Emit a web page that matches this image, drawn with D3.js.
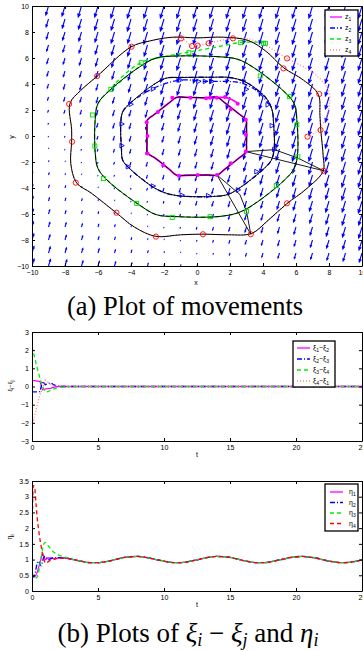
<!DOCTYPE html>
<html>
<head>
<meta charset="utf-8">
<script src="https://cdn.jsdelivr.net/npm/d3@7"></script>
<style>
  body { margin: 0; background: #fff; }
  svg { display: block; font-family: "Liberation Sans", Arial, sans-serif; }
</style>
</head>
<body>
<svg id="chart" width="363" height="651"></svg>
<script>
// ---- panel (a): vector field ----
const gridX = [-10, -9, -8, -7, -6, -5, -4, -3, -2, -1, 0, 1, 2, 3, 4, 5, 6, 7, 8, 9, 10];
const gridY = [10, 9, 8, 7, 6, 5, 4, 3, 2, 1, 0, -1, -2, -3, -4, -5, -6, -7, -8, -9, -10];
// vertical speed per grid cell (negative = pointing down), rows follow gridY
const fieldVy = [
  [-8, -9, -10, -11, -11, -12, -12, -12, -12, -12, -12, -12, -12, -12, -12, -12, -12, -12, -12, -12, -12],
  [-7, -8, -9, -10, -11, -11, -12, -12, -12, -12, -12, -12, -12, -12, -12, -12, -12, -12, -12, -12, -12],
  [-6, -7, -8, -9, -10, -11, -11, -12, -12, -12, -12, -12, -12, -12, -12, -12, -12, -12, -12, -12, -12],
  [-5.5, -6, -7, -8, -9, -10, -11, -11, -12, -12, -12, -12, -12, -12, -12, -12, -12, -12, -12, -12, -12],
  [-5, -5.5, -6, -7, -8, -9, -10, -11, -11, -12, -12, -12, -12, -12, -12, -12, -12, -12, -12, -12, -12],
  [-4, -5, -5.5, -6, -7, -8, -9, -10, -11, -11, -12, -12, -12, -12, -12, -12, -12, -12, -12, -12, -12],
  [-3, -4, -5, -5.5, -6, -7, -8, -9, -10, -11, -11, -12, -12, -12, -12, -12, -12, -12, -12, -12, -12],
  [-2, -3, -4, -5, -5.5, -6, -7, -8, -9, -10, -11, -11, -12, -12, -12, -12, -12, -12, -12, -12, -12],
  [-1, -2, -3, -4, -5, -5.5, -6, -7, -8, -9, -10, -11, -11, -12, -12, -12, -12, -12, -12, -12, -12],
  [-0.5, -1, -2, -3, -4, -5, -5.5, -6, -7, -8, -9, -10, -11, -11, -12, -12, -12, -12, -12, -12, -12],
  [0.5, -0.5, -1, -2, -3, -4, -5, -5.5, -6, -7, -8, -9, -10, -11, -11, -12, -12, -12, -12, -12, -12],
  [1, 0.5, -0.5, -1, -2, -3, -4, -5, -5.5, -6, -7, -8, -9, -10, -11, -11, -12, -12, -12, -12, -12],
  [2, 1, 0.5, -0.5, -1, -2, -3, -4, -5, -5.5, -6, -7, -8, -9, -10, -11, -11, -12, -12, -12, -12],
  [2.5, 2, 1, 0.5, -0.5, -1, -2, -3, -4, -5, -5.5, -6, -7, -8, -9, -10, -11, -11, -12, -12, -12],
  [3, 2.5, 2, 1, 0.5, -0.5, -1, -2, -3, -4, -5, -5.5, -6, -7, -8, -9, -10, -11, -11, -12, -12],
  [4, 3, 2.5, 2, 1, 0.5, -0.5, -1, -2, -3, -4, -5, -5.5, -6, -7, -8, -9, -10, -11, -11, -12],
  [4.5, 4, 3, 2.5, 2, 1, 0.5, -0.5, -1, -2, -3, -4, -5, -5.5, -6, -7, -8, -9, -10, -11, -11],
  [5, 4.5, 4, 3, 2.5, 2, 1, 0.5, -0.5, -1, -2, -3, -4, -5, -5.5, -6, -7, -8, -9, -10, -11],
  [6, 5, 4.5, 4, 3, 2.5, 2, 1, 0.5, -0.5, -1, -2, -3, -4, -5, -5.5, -6, -7, -8, -9, -10],
  [6.5, 6, 5, 4.5, 4, 3, 2.5, 2, 1, 0.5, -0.5, -1, -2, -3, -4, -5, -5.5, -6, -7, -8, -9],
  [7, 6.5, 6, 5, 4.5, 4, 3, 2.5, 2, 1, 0.5, -0.5, -1, -2, -3, -4, -5, -5.5, -6, -7, -8]
];

// desired closed paths (black), counter-clockwise
const path1 = [[3, -0.62], [3, 0.62], [2.97, 1.23], [2.56, 1.68], [1.68, 2.56], [1.23, 2.97], [0.62, 2.95], [-0.62, 2.97],
  [-1.23, 2.97], [-1.68, 2.56], [-2.56, 1.68], [-3.02, 1.2], [-3.03, 0.62], [-3.03, -0.62], [-3.0, -1.3], [-2.56, -1.68],
  [-1.68, -2.56], [-1.23, -3.02], [-0.62, -3.02], [0.62, -3.0], [1.23, -3.0], [1.68, -2.56], [2.56, -1.68], [2.97, -1.23]];
const path2 = [[4.68, -0.96], [4.64, 0.96], [4.55, 2.0], [4.2, 2.9], [2.95, 4.15], [1.95, 4.5], [0.96, 4.52], [-0.96, 4.5],
  [-1.87, 4.45], [-2.61, 3.97], [-3.97, 2.61], [-4.5, 1.87], [-4.62, 0.96], [-4.58, -0.96], [-4.5, -1.87], [-4.0, -2.6],
  [-2.61, -3.97], [-1.87, -4.4], [-0.96, -4.62], [0.96, -4.65], [1.87, -4.5], [2.61, -3.97], [3.97, -2.61], [4.5, -1.87]];
const path3 = [[6.1, -1.27], [6.05, 1.27], [5.9, 2.47], [5.25, 3.45], [3.45, 5.25], [2.47, 5.9], [1.27, 6.1], [-1.27, 6.15],
  [-2.47, 6.0], [-3.5, 5.3], [-5.3, 3.5], [-6.0, 2.5], [-6.17, 1.27], [-6.17, -1.27], [-6.0, -2.5], [-5.4, -3.45],
  [-3.5, -5.3], [-2.47, -6.05], [-1.27, -6.2], [1.27, -6.2], [2.5, -5.9], [3.45, -5.25], [5.25, -3.45], [5.9, -2.47]];
const path4 = [[7.65, -1.6], [7.5, 0.5], [7.45, 1.6], [7.35, 3.2], [6.45, 4.3], [5.25, 5.25], [4.2, 6.5], [3.1, 7.35],
  [1.6, 7.6], [0, 7.55], [-1.5, 7.6], [-2.9, 7.3], [-4.0, 6.85], [-6.05, 4.6], [-7.05, 3.5], [-7.7, 2.5], [-7.6, 0.5],
  [-7.6, -0.5], [-7.65, -2.1], [-7.3, -3.6], [-6.4, -4.4], [-4.9, -5.9], [-3.8, -7.0], [-2.5, -7.72], [-1.0, -7.6],
  [0.4, -7.55], [1.9, -7.6], [3.3, -7.5], [4.3, -6.5], [5.45, -5.2], [6.6, -4.1], [7.65, -2.7]];

// agent start-up transients before they lock onto their path
const z1Start = [[2.5, 2.5], [1.8, 2.95], [1.2, 2.95], [0.6, 2.9], [0, 2.95]];
const z2Start = [[4.4, 2.4], [3.6, 3.5], [2.6, 4.1], [1.5, 4.2], [0.5, 4.2], [-1.0, 4.3], [-2.6, 3.7]];
const z3Start = [[4.1, 7.2], [2.7, 7.2], [1.0, 6.8], [-0.5, 6.45], [-2.0, 6.1], [-3.4, 5.65], [-4.5, 4.6], [-5.25, 3.6]];
const z4Start = [[6.7, -0.05], [7.3, 0.4], [7.85, 1.5], [8.05, 2.6], [7.95, 3.6], [7.0, 4.9], [5.46, 5.97], [4.4, 6.8],
  [3.2, 7.45], [2.18, 7.51], [0.71, 7.13], [0.04, 6.95], [-0.3, 6.92], [-0.97, 7.51]];

// sampled positions (markers)
const z1Marks = [[2.47, 2.49], [1.7, 3.0], [1.2, 2.95], [0.8, 2.95], [0.55, 2.9], [-0.4, 2.95], [-1.5, 2.95], [-2.37, 1.85],
  [-3.05, 1.05], [-3.0, 0.0], [-3.0, -1.35], [-2.05, -2.25], [-1.1, -3.05], [0.05, -3.0], [1.21, -3.0], [2.05, -2.1],
  [2.96, -1.2], [2.96, 0.1], [2.96, 1.25], [2.05, 2.05]];
const z2Marks = [[-4.0, 2.44], [-4.55, 0.92], [-4.55, -0.74], [-4.17, -2.36], [-2.65, -3.85], [-0.9, -4.55], [0.69, -4.59],
  [2.5, -4.15], [3.62, -2.74], [4.7, -1.05], [4.55, 0.79], [4.3, 2.4], [3.0, 3.6], [0.9, 4.2], [0.5, 4.2], [0.1, 4.2],
  [-1.0, 4.3], [-2.65, 3.62]];
const z3Marks = [[4.03, 7.13], [4.15, 7.13], [2.65, 7.18], [-0.49, 6.41], [-3.38, 5.64], [-5.22, 3.59], [-6.34, 1.62],
  [-6.19, -0.77], [-5.67, -3.28], [-3.66, -5.18], [-1.5, -6.26], [0.79, -6.21], [3.0, -5.8], [4.8, -3.82], [6.11, -1.59],
  [6.05, 0.87], [5.6, 3.03], [3.83, 4.62]];
const z4Marks = [[6.7, -0.05], [5.46, 5.97], [2.18, 7.51], [0.71, 7.13], [0.04, 6.95], [-0.3, 6.92], [-0.97, 7.51],
  [-3.97, 6.87], [-6.05, 4.62], [-7.75, 2.46], [-7.57, -0.44], [-7.35, -3.59], [-4.88, -5.9], [-2.49, -7.74],
  [0.36, -7.56], [3.26, -7.56], [5.45, -5.18], [7.67, -2.67], [7.49, 0.46], [7.41, 3.23], [5.24, 5.2]];

// formation snapshots z1-z2-z3-z4
const snapshots = [
  [[2.96, -1.2], [4.7, -1.05], [6.11, -1.7], [7.67, -2.67]],
  [[1.21, -3.0], [2.6, -4.5], [3.0, -5.8], [3.26, -7.56]]
];

// ---- panel (b) top: xi_i - xi_j ----
const tXi = [0, 0.2, 0.4, 0.6, 0.8, 1.0, 1.2, 1.4, 1.6, 1.8, 2.0, 2.5, 3.0, 25];
const xi12 = [0.32, 0.32, 0.3, 0.28, -0.18, -0.15, -0.12, -0.1, -0.05, -0.02, 0, 0, 0, 0];
const xi23 = [-0.3, -0.3, -0.3, -0.28, 0.3, 0.1, 0.15, 0.2, 0.12, 0.05, 0.02, 0, 0, 0];
const xi34 = [2.2, 1.6, 1.0, 0.45, 0.0, -0.3, -0.28, -0.22, -0.15, -0.1, -0.06, -0.02, 0, 0];
const xi41 = [-2.2, -1.6, -1.0, -0.45, -0.12, 0.35, 0.25, 0.12, 0.08, 0.07, 0.04, 0.02, 0, 0];

// ---- panel (b) bottom: eta_i ----
const tEtaStart = [0, 0.1, 0.2, 0.3, 0.4, 0.5, 0.6, 0.7, 0.8, 0.9, 1.0, 1.1, 1.2, 1.4, 1.6, 1.8, 2.0, 2.5];
const eta1Start = [0.55, 0.45, 0.45, 0.5, 0.6, 0.75, 0.9, 1.05, 1.2, 1.1, 1.0, 1.02, 1.05, 1.05, 1.04, 1.04, 1.05, 1.05];
const eta2Start = [0.5, 0.45, 0.5, 0.7, 0.9, 0.95, 0.85, 0.8, 0.95, 1.08, 1.1, 1.05, 1.0, 1.02, 1.06, 1.05, 1.06, 1.05];
const eta3Start = [0.6, 0.5, 0.42, 0.42, 0.45, 0.6, 0.85, 1.1, 1.35, 1.5, 1.55, 1.5, 1.45, 1.35, 1.25, 1.2, 1.15, 1.08];
const eta4Start = [1.7, 3.35, 3.3, 2.8, 2.3, 1.95, 1.65, 1.4, 1.15, 1.0, 0.9, 0.88, 0.92, 0.98, 1.0, 1.02, 1.04, 1.05];
// common steady oscillation (all four overlap)
const tEtaSteady = [3, 3.5, 4, 4.5, 5, 5.5, 6, 6.5, 7, 7.5, 8, 8.5, 9, 9.5, 10, 10.5, 11, 11.5, 12, 12.5, 13, 13.5, 14,
  14.5, 15, 15.5, 16, 16.5, 17, 17.5, 18, 18.5, 19, 19.5, 20, 20.5, 21, 21.5, 22, 22.5, 23, 23.5, 24, 24.5, 25];
const etaSteady = [1.01, 0.97, 0.92, 0.9, 0.9, 0.93, 0.97, 1.02, 1.07, 1.09, 1.1, 1.08, 1.04, 0.99, 0.95, 0.91, 0.9,
  0.91, 0.95, 0.99, 1.04, 1.08, 1.1, 1.09, 1.07, 1.02, 0.97, 0.93, 0.9, 0.9, 0.92, 0.97, 1.01, 1.06, 1.09, 1.1, 1.08,
  1.05, 1.0, 0.95, 0.92, 0.9, 0.91, 0.94, 0.99];

const tickA = [-10, -8, -6, -4, -2, 0, 2, 4, 6, 8, 10];
const tickT = [0, 5, 10, 15, 20, 25];
const tickXi = [-3, -2, -1, 0, 1, 2, 3];
const tickEta = [0, 0.5, 1, 1.5, 2, 2.5, 3, 3.5];

const svg = d3.select('#chart');
const defs = svg.append('defs');

// box with inward ticks on all four sides (labels only bottom/left)
function frame(id, x, y, xt, yt, xfmt, yfmt) {
  const [x0, x1] = x.range();
  const [y0, y1] = y.range();
  defs.append('clipPath').attr('id', id)
    .append('rect').attr('x', x0).attr('y', y1).attr('width', x1 - x0).attr('height', y0 - y1);
  const g = svg.append('g');
  const axes = [
    [d3.axisBottom(x).tickValues(xt).tickFormat(xfmt).tickPadding(4), `translate(0,${y0})`],
    [d3.axisTop(x).tickValues(xt).tickFormat(''), `translate(0,${y1})`],
    [d3.axisLeft(y).tickValues(yt).tickFormat(yfmt).tickPadding(3), `translate(${x0},0)`],
    [d3.axisRight(y).tickValues(yt).tickFormat(''), `translate(${x1},0)`]
  ];
  axes.forEach(([ax, tr]) => {
    g.append('g').attr('transform', tr)
      .call(ax.tickSizeInner(-3).tickSizeOuter(0))
      .call(s => s.selectAll('text').attr('font-size', 7).attr('font-family', '"Liberation Sans", Arial, sans-serif').attr('fill', '#000'))
      .call(s => s.selectAll('line, path').attr('stroke', '#000'));
  });
  return g;
}

// ---------- (a) ----------
const xa = d3.scaleLinear().domain([-10, 10]).range([32, 362]);
const ya = d3.scaleLinear().domain([-10, 10]).range([266, 6]);
const plotA = svg.append('g').attr('clip-path', 'url(#clipA)');

// quiver
const arrows = [];
fieldVy.forEach((row, i) => row.forEach((v, j) => arrows.push({ x: gridX[j], y: gridY[i], v })));
const lean = 0.3;
const quiverPath = d => {
  const sx = xa(d.x), sy = ya(d.y);
  const dy = -d.v, dx = lean * d.v;        // screen space
  const ex = sx + dx, ey = sy + dy;
  const len = Math.hypot(dx, dy);
  if (len < 0.3) return `M${sx},${sy}h0.4`;
  const ux = dx / len, uy = dy / len, hl = len * 0.33, a = 0.4;
  const h1x = ex - hl * (ux * Math.cos(a) - uy * Math.sin(a));
  const h1y = ey - hl * (uy * Math.cos(a) + ux * Math.sin(a));
  const h2x = ex - hl * (ux * Math.cos(a) + uy * Math.sin(a));
  const h2y = ey - hl * (uy * Math.cos(a) - ux * Math.sin(a));
  return `M${sx},${sy}L${ex},${ey}M${h1x},${h1y}L${ex},${ey}L${h2x},${h2y}`;
};
plotA.append('g').selectAll('path').data(arrows).join('path')
  .attr('d', quiverPath).attr('fill', 'none').attr('stroke', '#0000ff').attr('stroke-width', 1.1);

const lineA = d3.line().x(d => xa(d[0])).y(d => ya(d[1])).curve(d3.curveCatmullRom.alpha(0.5));
const loopA = d3.line().x(d => xa(d[0])).y(d => ya(d[1])).curve(d3.curveCatmullRomClosed.alpha(0.5));

function follow(start, loop) {
  const last = start[start.length - 1];
  let best = 0;
  loop.forEach((p, i) => {
    if (Math.hypot(p[0] - last[0], p[1] - last[1]) < Math.hypot(loop[best][0] - last[0], loop[best][1] - last[1])) best = i;
  });
  return start.concat(loop.slice(best + 1), loop.slice(0, best + 1));
}

const agents = [
  { start: z1Start, loop: path1, color: '#ff00ff', dash: null, w: 1.8 },
  { start: z2Start, loop: path2, color: '#0000ff', dash: '5,2,1,2', w: 1.3 },
  { start: z3Start, loop: path3, color: '#00ee00', dash: '4,3', w: 1.4 },
  { start: z4Start, loop: path4, color: '#ff8080', dash: '1,2', w: 1.2 }
];
agents.forEach(a => {
  plotA.append('path').attr('d', lineA(follow(a.start, a.loop))).attr('fill', 'none')
    .attr('stroke', a.color).attr('stroke-width', a.w).attr('stroke-dasharray', a.dash);
});
[path1, path2, path3, path4].forEach(p => {
  plotA.append('path').attr('d', loopA(p)).attr('fill', 'none').attr('stroke', '#000').attr('stroke-width', 1);
});
snapshots.forEach(s => {
  plotA.append('path').attr('d', d3.line().x(d => xa(d[0])).y(d => ya(d[1]))(s.concat([s[0]])))
    .attr('fill', 'none').attr('stroke', '#000').attr('stroke-width', 0.9);
});

plotA.append('g').selectAll('circle').data(z1Marks).join('circle')
  .attr('cx', d => xa(d[0])).attr('cy', d => ya(d[1])).attr('r', 2).attr('fill', '#ff00ff');
plotA.append('g').selectAll('path').data(z2Marks).join('path')
  .attr('d', d => `M${xa(d[0]) - 2},${ya(d[1]) - 2.3}L${xa(d[0]) + 2.4},${ya(d[1])}L${xa(d[0]) - 2},${ya(d[1]) + 2.3}Z`)
  .attr('fill', 'none').attr('stroke', '#0000ff').attr('stroke-width', 0.9);
plotA.append('g').selectAll('rect').data(z3Marks).join('rect')
  .attr('x', d => xa(d[0]) - 2).attr('y', d => ya(d[1]) - 2).attr('width', 4).attr('height', 4)
  .attr('fill', 'none').attr('stroke', '#00dd00').attr('stroke-width', 0.9);
plotA.append('g').selectAll('circle').data(z4Marks).join('circle')
  .attr('cx', d => xa(d[0])).attr('cy', d => ya(d[1])).attr('r', 2.6)
  .attr('fill', 'none').attr('stroke', '#ff0000').attr('stroke-width', 0.9);

frame('clipA', xa, ya, tickA, tickA, d3.format('d'), d3.format('d'));
svg.append('text').attr('x', 196).attr('y', 285).attr('text-anchor', 'middle').attr('font-size', 7).text('x');
svg.append('text').attr('transform', 'translate(14,137) rotate(-90)').attr('text-anchor', 'middle').attr('font-size', 7).text('y');

function legendBox(x0, y0, w, h, entries, lx, tx, dy) {
  svg.append('rect').attr('x', x0).attr('y', y0).attr('width', w).attr('height', h)
    .attr('fill', '#fff').attr('stroke', '#000').attr('stroke-width', 1.3);
  entries.forEach((e, i) => {
    const yy = y0 + dy[0] + i * dy[1];
    svg.append('line').attr('x1', lx[0]).attr('x2', lx[1]).attr('y1', yy).attr('y2', yy)
      .attr('stroke', e.color).attr('stroke-width', 1.3).attr('stroke-dasharray', e.dash);
    subText(svg.append('text').attr('x', tx).attr('y', yy + 2).attr('font-size', 7), e.label);
  });
}
// alternating base text / subscript
function subText(t, parts) {
  parts.forEach((p, k) => {
    if (k % 2 === 0) t.append('tspan').attr('dy', k === 0 ? 0 : -2).text(p);
    else t.append('tspan').attr('dy', 2).attr('font-size', 5).text(p);
  });
}
legendBox(325, 10, 33, 46, [
  { color: '#ff00ff', dash: null, label: ['z', '1'] },
  { color: '#0000ff', dash: '5,2,1,2', label: ['z', '2'] },
  { color: '#00ee00', dash: '4,3', label: ['z', '3'] },
  { color: '#ff8080', dash: '1,2', label: ['z', '4'] }
], [330, 342], 345, [7, 11]);

svg.append('text').attr('x', 185).attr('y', 315).attr('text-anchor', 'middle')
  .attr('font-family', '"Liberation Serif", "Times New Roman", serif').attr('font-size', 26.5).text('(a) Plot of movements');

// ---------- (b) top ----------
const xt = d3.scaleLinear().domain([0, 25]).range([32, 362]);
const yXi = d3.scaleLinear().domain([-3, 3]).range([441, 332]);
const plotXi = svg.append('g').attr('clip-path', 'url(#clipXi)');
const xiSeries = [
  { v: xi12, color: '#ff00ff', dash: null },
  { v: xi23, color: '#0000ff', dash: '5,2,1,2' },
  { v: xi34, color: '#00ee00', dash: '4,3' },
  { v: xi41, color: '#ff8080', dash: '1,2' }
];
xiSeries.forEach(s => {
  plotXi.append('path')
    .attr('d', d3.line().x((d, i) => xt(tXi[i])).y(d => yXi(d))(s.v))
    .attr('fill', 'none').attr('stroke', s.color).attr('stroke-width', 1.3).attr('stroke-dasharray', s.dash);
});
frame('clipXi', xt, yXi, tickT, tickXi, d3.format('d'), d3.format('d'));
svg.append('text').attr('x', 197).attr('y', 457).attr('text-anchor', 'middle').attr('font-size', 7).text('t');
subText(svg.append('text').attr('transform', 'translate(12,386) rotate(-90)').attr('text-anchor', 'middle').attr('font-size', 6),
  ['ξ', 'i', '−ξ', 'j']);
legendBox(293, 341, 42, 46, [
  { color: '#ff00ff', dash: null, label: ['ξ', '1', '−ξ', '2'] },
  { color: '#0000ff', dash: '5,2,1,2', label: ['ξ', '2', '−ξ', '3'] },
  { color: '#00ee00', dash: '4,3', label: ['ξ', '3', '−ξ', '4'] },
  { color: '#ff8080', dash: '1,2', label: ['ξ', '4', '−ξ', '1'] }
], [297, 310], 313, [7, 11]);

// ---------- (b) bottom ----------
const yEta = d3.scaleLinear().domain([0, 3.5]).range([591, 481]);
const plotEta = svg.append('g').attr('clip-path', 'url(#clipEta)');
const etaT = tEtaStart.concat(tEtaSteady);
const etaSeries = [
  { v: eta1Start, color: '#ff00ff', dash: null },
  { v: eta2Start, color: '#0000ff', dash: '5,2,1,2' },
  { v: eta3Start, color: '#00ee00', dash: '4,3' },
  { v: eta4Start, color: '#ff0000', dash: '4,3' }
];
etaSeries.forEach(s => {
  const vals = s.v.concat(etaSteady);
  plotEta.append('path')
    .attr('d', d3.line().x((d, i) => xt(etaT[i])).y(d => yEta(d)).curve(d3.curveMonotoneX)(vals))
    .attr('fill', 'none').attr('stroke', s.color).attr('stroke-width', 1.3).attr('stroke-dasharray', s.dash);
});
frame('clipEta', xt, yEta, tickT, tickEta, d3.format('d'), d3.format('~g'));
svg.append('text').attr('x', 197).attr('y', 607).attr('text-anchor', 'middle').attr('font-size', 7).text('t');
subText(svg.append('text').attr('transform', 'translate(12,537) rotate(-90)').attr('text-anchor', 'middle').attr('font-size', 7),
  ['η', 'i']);
legendBox(325, 484, 33, 47, [
  { color: '#ff00ff', dash: null, label: ['η', '1'] },
  { color: '#0000ff', dash: '5,2,1,2', label: ['η', '2'] },
  { color: '#00ee00', dash: '4,3', label: ['η', '3'] },
  { color: '#ff0000', dash: '4,3', label: ['η', '4'] }
], [330, 343], 349, [8, 10.5]);

// caption (b)
const cap = svg.append('text').attr('x', 188).attr('y', 642).attr('text-anchor', 'middle')
  .attr('font-family', '"Liberation Serif", "Times New Roman", serif').attr('font-size', 27);
cap.append('tspan').text('(b) Plots of ');
cap.append('tspan').attr('font-style', 'italic').text('ξ');
cap.append('tspan').attr('font-style', 'italic').attr('font-size', 18).attr('dy', 4).text('i');
cap.append('tspan').attr('dy', -4).text(' − ');
cap.append('tspan').attr('font-style', 'italic').text('ξ');
cap.append('tspan').attr('font-style', 'italic').attr('font-size', 18).attr('dy', 4).text('j');
cap.append('tspan').attr('dy', -4).text(' and ');
cap.append('tspan').attr('font-style', 'italic').text('η');
cap.append('tspan').attr('font-style', 'italic').attr('font-size', 18).attr('dy', 4).text('i');
</script>
</body>
</html>
